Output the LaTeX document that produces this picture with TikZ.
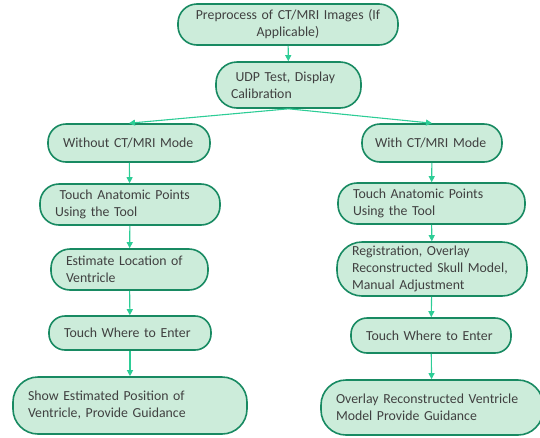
\documentclass[tikz,border=0pt]{standalone}
\usepackage{fontspec}
\setmainfont{Carlito}
\usetikzlibrary{arrows.meta}
\definecolor{boxfill}{RGB}{204,236,218}
\definecolor{boxline}{RGB}{24,138,98}
\definecolor{arrowc}{RGB}{45,205,150}
\definecolor{txtgray}{RGB}{64,64,64}
\tikzset{
  stepnode/.style={draw=boxline, fill=boxfill, line width=1.6pt, rounded corners=16pt,
    inner xsep=15pt, inner ysep=2pt, align=left, text=txtgray,
    font=\fontsize{13.8}{17}\selectfont},
  flow/.style={draw=arrowc, line width=1.1pt, -{Triangle[length=6pt,width=6pt,fill=arrowc]}}
}
\begin{document}
\begin{tikzpicture}[x=1pt,y=-1pt]
                \useasboundingbox (0,0) rectangle (540,437);

                % top of the flow
                \node[stepnode, align=center, inner xsep=10pt, text width=200pt, minimum height=41pt, rounded corners=19pt] (pre) at (288,24.5) {Preprocess of CT/MRI Images (If\\Applicable)};
                \node[stepnode, text width=115pt, minimum height=46pt, rounded corners=21pt] (udp) at (288.5,85) {\ UDP Test, Display\\Calibration};

                % left branch
                \node[stepnode, text width=132pt, minimum height=38pt, rounded corners=18pt] (without) at (129,143) {Without CT/MRI Mode};
                \node[stepnode, text width=150pt, minimum height=41pt, rounded corners=19pt] (touchL) at (130,204.5) {\ Touch Anatomic Points\\Using the Tool};
                \node[stepnode, text width=127pt, minimum height=41pt, rounded corners=19pt] (estim) at (129.5,269.5) {Estimate Location of\\Ventricle};
                \node[stepnode, text width=132pt, minimum height=34pt] (enterL) at (130,333) {Touch Where to Enter};
                \node[stepnode, text width=204pt, minimum height=57pt, rounded corners=25pt] (showL) at (130,405.5) {Show Estimated Position of\\Ventricle, Provide Guidance};

                % right branch
                \node[stepnode, inner xsep=13pt, text width=114pt, minimum height=38pt, rounded corners=18pt] (with) at (432,143) {\mbox{With CT/MRI Mode}};
                \node[stepnode, text width=157pt, minimum height=41pt, rounded corners=19pt] (touchR) at (431.5,203.5) {Touch Anatomic Points\\Using the Tool};
                \node[stepnode, text width=160pt, minimum height=54pt, rounded corners=25pt] (regis) at (432,269) {Registration, Overlay\\Reconstructed Skull Model,\\Manual Adjustment};
                \node[stepnode, text width=130pt, minimum height=35pt] (enterR) at (431,335.5) {Touch Where to Enter};
                \node[stepnode, text width=192pt, minimum height=55pt, rounded corners=25pt] (overR) at (432,407.5) {Overlay Reconstructed Ventricle\\Model Provide Guidance};

                \draw[flow] (pre) -- (udp);
                \draw[flow] (udp.south) -- (without.north);
                \draw[flow] (udp.south) -- (with.north);
                \draw[flow] (without) -- (touchL);
                \draw[flow] (touchL) -- (estim);
                \draw[flow] (estim) -- (enterL);
                \draw[flow] (enterL) -- (showL);
                \draw[flow] (with) -- (touchR);
                \draw[flow] (touchR) -- (regis);
                \draw[flow] (regis) -- (enterR);
                \draw[flow] (enterR) -- (overR);
\end{tikzpicture}
\end{document}
